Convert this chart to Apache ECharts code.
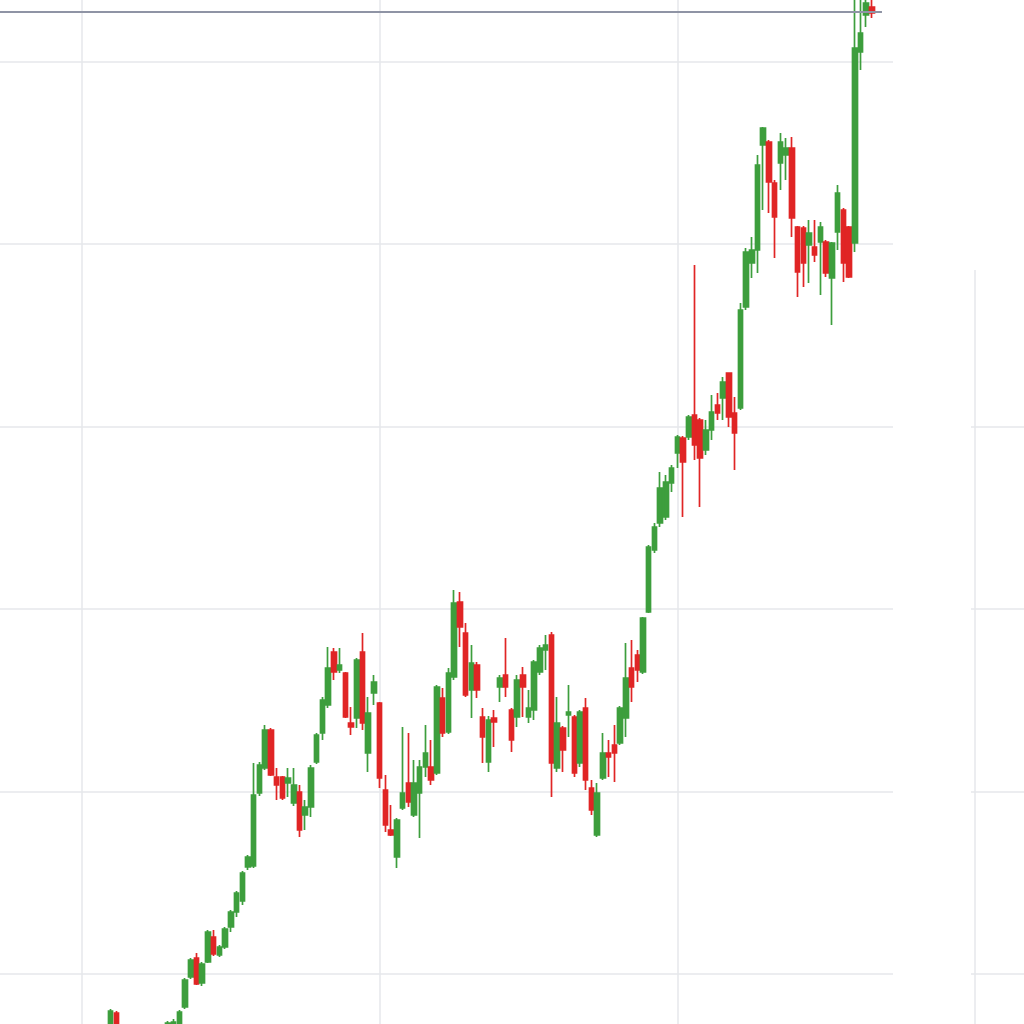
<!DOCTYPE html>
<html><head><meta charset="utf-8">
<script src="https://cdn.jsdelivr.net/npm/echarts@6/dist/echarts.min.js"></script>
<style>html,body{margin:0;padding:0;background:#fff;overflow:hidden}#c{width:1024px;height:1024px}</style>
</head><body><div id="c"></div>
<script>
// week index of each candle
const weeks = [
 57,58,67,68,69,70,71,72,73,74,
 75,76,77,78,79,80,81,82,83,84,
 85,86,87,88,89,90,91,92,93,94,
 95,96,97,98,99,100,101,102,103,104,
 105,106,107,108,109,110,111,112,113,114,
 115,116,117,118,119,120,121,122,123,124,
 125,126,127,128,129,130,131,132,133,134,
 135,136,137,138,139,140,141,142,143,144,
 145,146,147,148,149,150,151,152,153,154,
 155,156,157,158,159,160,161,162,163,164,
 165,166,167,168,169,170,171,172,173,174,
 175,176,177,178,179,180,181,182,183,184,
 185,186,187,188,189,190
];
const open = [
 12.15,14.35,12.65,12.65,13.25,14.95,17.95,19.85,17.35,19.45,
 21.95,20.15,20.95,22.95,24.45,25.55,28.95,29.05,36.35,38.85,
 42.65,37.95,37.95,37.35,35.35,36.45,34.15,34.95,39.45,42.35,
 45.15,50.45,48.65,48.35,43.35,43.85,50.45,40.35,46.35,45.35,
 36.65,32.65,29.95,34.85,37.35,34.15,36.35,38.95,38.95,38.35,
 45.85,42.45,47.95,55.45,52.35,46.65,49.15,43.95,39.45,43.85,
 46.95,48.15,44.65,43.95,48.15,43.95,44.65,48.45,50.65,52.15,
 38.85,42.85,44.15,43.95,39.35,44.85,36.85,32.15,37.85,40.35,
 41.15,41.35,43.85,48.85,50.15,48.45,54.45,60.65,63.35,63.95,
 67.35,70.35,71.85,71.95,74.15,73.65,70.65,72.65,75.15,75.85,
 78.35,74.35,74.85,84.95,89.35,90.65,101.15,101.45,97.35,99.35,
 100.15,100.85,92.95,92.85,91.15,90.95,91.45,91.45,87.85,92.45,
 94.65,92.95,91.35,110.45,114.15,114.95
];
const close = [
 14.55,12.65,13.35,13.45,14.45,17.65,19.65,17.25,19.25,22.45,
 20.25,20.95,22.75,24.45,26.35,28.35,29.95,36.15,39.15,42.65,
 38.15,37.15,35.85,37.85,37.15,32.65,34.95,38.85,42.15,45.65,
 48.85,48.45,49.15,43.95,42.95,49.65,43.35,44.35,47.45,37.85,
 33.15,32.15,33.65,36.35,35.45,37.35,38.95,40.35,37.65,46.95,
 42.35,48.35,55.35,52.95,46.15,49.35,46.65,41.95,43.65,43.45,
 47.85,46.95,41.65,47.65,46.95,44.85,49.45,50.85,51.15,39.35,
 43.35,40.65,44.45,38.35,44.45,37.65,34.65,36.35,40.35,39.95,
 40.35,44.85,47.85,46.95,48.65,53.85,60.95,62.95,66.85,67.45,
 68.85,71.95,69.45,73.95,71.15,69.85,72.65,74.45,74.35,77.45,
 73.95,72.35,84.65,90.45,90.65,99.15,102.85,97.45,93.95,101.45,
 100.85,93.85,88.45,89.35,92.35,90.15,92.95,88.35,91.35,96.35,
 89.35,87.95,110.85,112.35,115.35,114.35
];
const low = [
 11.65,12.15,12.45,12.45,13.05,14.75,17.75,17.15,17.05,19.35,
 20.05,19.95,20.75,22.45,23.95,25.15,28.65,28.85,36.05,38.65,
 38.05,35.65,35.65,35.95,35.05,31.95,32.65,33.95,39.25,41.65,
 44.85,47.65,48.35,43.85,42.15,42.85,42.65,38.45,45.15,36.85,
 32.45,32.05,28.85,34.65,34.95,33.95,31.85,37.95,37.15,38.15,
 41.95,42.25,47.65,50.95,45.95,43.85,45.85,39.35,38.45,40.95,
 45.45,45.95,40.45,42.95,43.95,43.35,43.65,48.15,48.65,35.95,
 38.45,38.45,41.95,37.95,38.95,36.65,34.15,31.95,37.65,37.95,
 37.45,41.15,41.95,45.45,47.45,48.25,54.35,60.35,62.95,63.65,
 66.45,68.85,63.95,71.65,69.65,64.95,70.15,71.65,73.65,73.65,
 72.95,68.65,74.65,84.65,87.85,88.35,94.65,94.35,89.85,96.65,
 97.65,91.95,85.95,86.95,87.35,89.45,86.15,87.95,83.15,90.65,
 87.45,87.85,90.45,108.65,112.95,113.85
];
const high = [
 14.75,14.55,13.55,13.75,14.65,17.85,19.85,20.35,19.45,22.65,
 22.65,21.15,22.95,24.65,26.55,28.55,30.15,39.35,39.45,43.15,
 42.85,38.85,38.05,38.85,38.85,37.15,35.65,39.15,42.35,45.95,
 50.95,50.85,50.85,48.45,44.95,49.85,52.35,45.95,48.15,45.45,
 38.15,35.15,33.85,42.95,42.35,39.65,39.65,43.15,41.65,47.15,
 46.85,48.85,56.65,56.45,53.35,51.15,49.45,44.85,44.05,44.65,
 48.15,51.85,44.85,48.15,48.95,46.65,49.65,51.15,52.15,52.45,
 45.95,43.05,47.15,44.15,44.65,45.85,37.65,37.35,42.35,41.65,
 43.15,45.05,51.35,51.65,50.65,53.95,61.15,63.35,68.45,68.15,
 69.15,72.15,72.05,74.15,89.15,73.85,73.65,76.15,76.35,77.95,
 78.35,75.95,85.35,90.85,91.95,100.15,102.95,101.65,97.65,102.35,
 101.85,101.95,93.05,93.05,93.65,93.65,93.45,91.65,91.45,97.15,
 94.85,93.05,115.65,115.65,115.85,115.65
];
const lastPriceLine = 114.45;
const xTickStep = 52;
const yTickStep = 18.25;

const rows = weeks.map((w, i) => [w, open[i], close[i], low[i], high[i]]);
const UP = '#3d9e3d', DOWN = '#e02525';
const chart = echarts.init(document.getElementById('c'), null, {renderer: 'canvas'});
const gridLine = {show: true, lineStyle: {color: '#e6e7eb', width: 1.5}};
chart.setOption({
  animation: false,
  backgroundColor: '#ffffff',
  grid: {left: -215.67, right: -248.67, top: -121, bottom: -132.5, outerBoundsMode: 'none', containLabel: false},
  xAxis: {type: 'value', min: 0, max: xTickStep * 5, interval: xTickStep,
    axisLine: {show: false}, axisTick: {show: false}, axisLabel: {show: false}, splitLine: gridLine},
  yAxis: {type: 'value', min: 0, max: yTickStep * 7, interval: yTickStep, scale: false,
    axisLine: {show: false}, axisTick: {show: false}, axisLabel: {show: false}, splitLine: gridLine},
  // blank price-label band on the right side of the plot
  graphic: [
    {type: 'rect', z: 100, shape: {x: 893, y: 0, width: 78, height: 1024}, style: {fill: '#ffffff'}, silent: true},
    {type: 'rect', z: 100, shape: {x: 893, y: 0, width: 131, height: 270}, style: {fill: '#ffffff'}, silent: true}
  ],
  series: [{
    type: 'candlestick',
    data: rows,
    barWidth: 5,
    itemStyle: {color: UP, color0: DOWN, borderColor: UP, borderColor0: DOWN, borderWidth: 1.7},
    markLine: {
      silent: true, symbol: ['none', 'none'], label: {show: false},
      lineStyle: {color: '#8f94a5', width: 2, type: 'solid'},
      data: [[{coord: [0, lastPriceLine]}, {coord: [weeks[weeks.length - 1] + 1.75, lastPriceLine]}]]
    }
  }]
});
</script></body></html>
